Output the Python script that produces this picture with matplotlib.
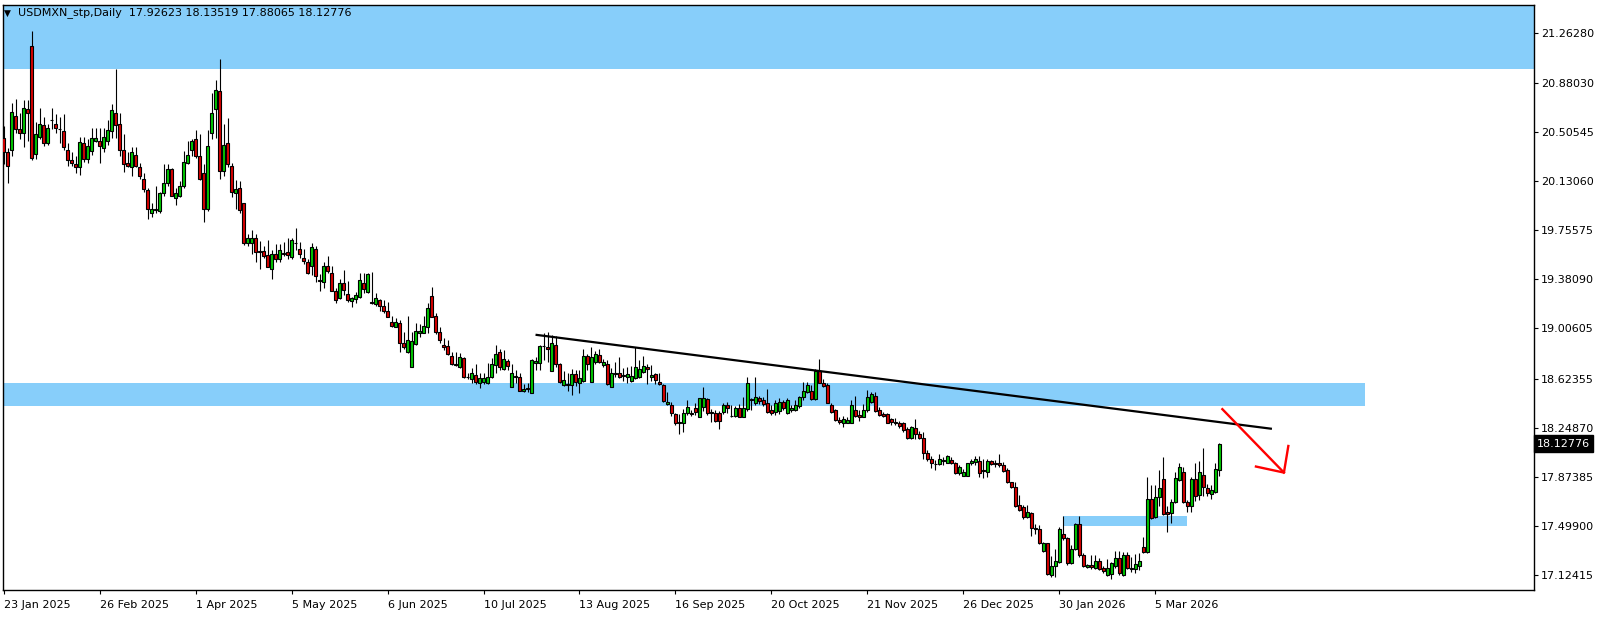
import matplotlib
matplotlib.use("Agg")
import matplotlib.pyplot as plt
import matplotlib.transforms as mtransforms
from matplotlib import font_manager

# ---------------- data (USDMXN daily, bar index 0 = 23 Jan 2025) ----------------
opens = [20.46,20.35,20.37,20.63,20.53,20.50,20.68,21.16,20.34,20.47,
         20.56,20.42,20.60,20.57,20.53,20.51,20.37,20.29,20.26,20.24,
         20.42,20.30,20.36,20.44,20.44,20.38,20.44,20.51,20.65,20.57,
         20.37,20.27,20.24,20.33,20.24,20.15,20.06,19.89,19.92,19.90,
         20.04,20.12,20.22,20.00,20.02,20.09,20.27,20.37,20.45,20.32,
         20.19,19.92,20.50,20.68,20.82,20.21,20.42,20.25,20.04,20.08,
         19.961,19.661,19.661,19.694,19.597,19.597,19.567,19.457,19.574,19.534,
         19.580,19.590,19.549,19.661,19.613,19.541,19.513,19.486,19.613,19.376,
         19.358,19.483,19.427,19.292,19.236,19.351,19.267,19.218,19.231,19.244,
         19.356,19.287,19.208,19.190,19.223,19.178,19.139,19.055,19.020,19.045,
         18.893,18.829,18.709,18.885,18.974,18.974,19.020,19.254,19.101,18.982,
         18.880,18.872,18.796,18.735,18.714,18.778,18.638,18.618,18.651,18.592,
         18.600,18.592,18.633,18.727,18.824,18.694,18.758,18.562,18.638,18.633,
         18.526,18.546,18.516,18.745,18.740,18.872,18.862,18.684,18.877,18.735,
         18.572,18.580,18.574,18.659,18.592,18.608,18.796,18.600,18.747,18.803,
         18.730,18.732,18.562,18.664,18.664,18.646,18.633,18.608,18.625,18.633,
         18.676,18.709,18.638,18.656,18.595,18.572,18.427,18.419,18.351,18.282,
         18.287,18.358,18.363,18.399,18.333,18.404,18.465,18.363,18.363,18.363,
         18.371,18.422,18.338,18.338,18.396,18.333,18.389,18.465,18.440,18.473,
         18.460,18.440,18.384,18.371,18.379,18.447,18.363,18.384,18.384,18.414,
         18.480,18.524,18.531,18.470,18.684,18.592,18.574,18.422,18.384,18.307,
         18.287,18.287,18.287,18.384,18.346,18.333,18.384,18.447,18.491,18.384,
         18.353,18.353,18.312,18.295,18.282,18.282,18.236,18.167,18.244,18.200,
         18.167,18.053,18.007,17.974,17.969,17.997,17.982,18.002,17.982,17.900,
         17.880,17.880,17.977,17.989,17.997,17.926,17.913,17.997,17.977,17.977,
         17.964,17.926,17.831,17.799,17.658,17.646,17.569,17.600,17.483,17.473,
         17.310,17.366,17.122,17.193,17.226,17.437,17.409,17.213,17.320,17.511,
         17.277,17.183,17.200,17.180,17.231,17.180,17.124,17.129,17.195,17.256,
         17.124,17.277,17.180,17.167,17.195,17.340,17.302,17.704,17.564,17.717,
         17.854,17.608,17.595,17.679,17.849,17.913,17.684,17.651,17.854,17.735,
         17.887,17.786,17.743,17.760,17.92623]
highs = [20.55,20.38,20.73,20.76,20.65,20.75,20.75,21.28,20.58,20.69,
         20.62,20.57,20.69,20.64,20.62,20.64,20.42,20.35,20.32,20.47,
         20.47,20.45,20.54,20.54,20.54,20.54,20.60,20.72,20.99,20.65,
         20.49,20.35,20.39,20.39,20.27,20.19,20.08,19.96,20.09,20.05,
         20.26,20.26,20.23,20.08,20.13,20.36,20.44,20.45,20.52,20.49,
         20.26,20.52,20.80,20.90,21.06,20.57,20.61,20.27,20.14,20.13,
         19.966,19.727,19.758,19.727,19.676,19.636,19.681,19.605,19.651,19.648,
         19.669,19.699,19.699,19.773,19.669,19.610,19.534,19.661,19.633,19.422,
         19.511,19.559,19.483,19.317,19.386,19.452,19.368,19.249,19.282,19.427,
         19.427,19.427,19.440,19.279,19.228,19.223,19.211,19.101,19.083,19.071,
         18.982,19.101,18.982,19.045,19.038,19.101,19.198,19.320,19.127,19.020,
         18.931,18.918,18.829,18.829,18.816,18.791,18.663,18.702,18.735,18.663,
         18.663,18.740,18.778,18.880,18.847,18.842,18.776,18.735,18.689,18.664,
         18.582,18.587,18.773,18.786,18.880,18.974,18.982,18.956,18.949,18.740,
         18.684,18.664,18.694,18.689,18.689,18.849,18.811,18.862,18.837,18.847,
         18.776,18.765,18.702,18.753,18.791,18.702,18.714,18.720,18.862,18.765,
         18.796,18.735,18.727,18.664,18.664,18.580,18.524,18.447,18.363,18.350,
         18.389,18.460,18.384,18.440,18.473,18.562,18.473,18.389,18.384,18.379,
         18.440,18.447,18.422,18.414,18.429,18.480,18.633,18.473,18.633,18.491,
         18.480,18.541,18.422,18.460,18.473,18.460,18.473,18.422,18.460,18.491,
         18.600,18.600,18.574,18.694,18.770,18.618,18.592,18.435,18.389,18.328,
         18.338,18.328,18.460,18.491,18.384,18.429,18.536,18.524,18.524,18.409,
         18.371,18.358,18.320,18.320,18.302,18.295,18.251,18.262,18.312,18.226,
         18.218,18.078,18.033,18.002,18.048,18.022,18.040,18.022,17.989,17.964,
         17.931,17.982,18.007,18.033,18.033,18.007,18.007,18.002,18.002,18.048,
         17.989,17.938,17.837,17.837,17.735,17.658,17.658,17.608,17.513,17.506,
         17.379,17.371,17.269,17.320,17.488,17.575,17.417,17.353,17.518,17.575,
         17.290,17.208,17.277,17.277,17.251,17.193,17.244,17.226,17.307,17.310,
         17.302,17.302,17.259,17.284,17.295,17.412,17.875,17.811,17.811,17.926,
         18.027,17.651,17.702,17.913,17.982,17.951,17.697,17.870,17.977,17.997,
         18.091,17.816,17.811,17.982,18.13519]
lows = [20.26,20.12,20.32,20.50,20.45,20.39,20.44,20.29,20.30,20.45,
        20.40,20.41,20.53,20.50,20.42,20.37,20.25,20.25,20.19,20.18,
        20.28,20.27,20.33,20.43,20.27,20.35,20.41,20.46,20.46,20.32,
        20.20,20.24,20.17,20.24,20.15,20.05,19.84,19.86,19.89,19.89,
        20.02,20.09,20.02,19.95,20.01,20.08,20.26,20.32,20.31,20.14,
        19.82,19.90,20.45,20.46,20.15,20.17,20.24,20.01,19.92,19.89,
        19.643,19.636,19.575,19.511,19.457,19.541,19.478,19.381,19.511,19.511,
        19.562,19.539,19.536,19.605,19.546,19.496,19.422,19.412,19.361,19.295,
        19.317,19.427,19.295,19.198,19.229,19.262,19.211,19.172,19.197,19.236,
        19.279,19.279,19.193,19.180,19.142,19.122,19.091,19.020,19.015,18.824,
        18.847,18.821,18.709,18.880,18.938,18.969,18.974,19.091,18.964,18.893,
        18.842,18.806,18.727,18.720,18.702,18.628,18.618,18.592,18.582,18.549,
        18.582,18.582,18.625,18.664,18.689,18.689,18.689,18.557,18.587,18.526,
        18.523,18.518,18.511,18.689,18.689,18.765,18.753,18.681,18.714,18.592,
        18.567,18.531,18.501,18.567,18.516,18.600,18.689,18.600,18.732,18.740,
        18.709,18.572,18.557,18.633,18.625,18.608,18.592,18.600,18.623,18.625,
        18.664,18.582,18.608,18.582,18.574,18.447,18.422,18.338,18.269,18.200,
        18.218,18.346,18.338,18.346,18.328,18.379,18.346,18.295,18.295,18.236,
        18.353,18.358,18.328,18.328,18.328,18.328,18.379,18.384,18.422,18.429,
        18.414,18.363,18.346,18.346,18.353,18.384,18.353,18.371,18.379,18.396,
        18.460,18.511,18.460,18.460,18.587,18.557,18.435,18.358,18.302,18.277,
        18.251,18.282,18.282,18.328,18.302,18.328,18.371,18.435,18.371,18.338,
        18.328,18.282,18.269,18.269,18.244,18.218,18.160,18.160,18.160,18.160,
        18.007,17.997,17.938,17.926,17.964,17.964,17.977,17.971,17.895,17.887,
        17.880,17.880,17.964,17.964,17.870,17.867,17.870,17.964,17.951,17.951,
        17.913,17.824,17.786,17.646,17.615,17.549,17.557,17.422,17.437,17.361,
        17.302,17.124,17.111,17.111,17.218,17.391,17.200,17.206,17.315,17.264,
        17.188,17.175,17.167,17.167,17.162,17.142,17.119,17.091,17.175,17.124,
        17.116,17.167,17.150,17.142,17.162,17.295,17.295,17.549,17.557,17.651,
        17.582,17.455,17.524,17.671,17.844,17.676,17.608,17.608,17.692,17.697,
        17.727,17.727,17.702,17.753,17.88065]
closes = [20.35,20.25,20.66,20.53,20.50,20.69,20.65,20.31,20.49,20.57,
          20.42,20.54,20.595,20.54,20.525,20.39,20.29,20.27,20.24,20.43,
          20.30,20.40,20.46,20.46,20.40,20.47,20.52,20.67,20.56,20.37,
          20.26,20.25,20.35,20.25,20.17,20.07,19.92,19.92,19.91,20.04,
          20.12,20.22,20.02,20.04,20.09,20.28,20.33,20.44,20.32,20.15,
          19.92,20.40,20.65,20.83,20.21,20.41,20.26,20.05,20.07,19.91,
          19.661,19.694,19.694,19.587,19.587,19.562,19.478,19.574,19.539,19.605,
          19.576,19.569,19.681,19.656,19.572,19.524,19.432,19.625,19.406,19.366,
          19.480,19.447,19.295,19.224,19.351,19.300,19.223,19.236,19.262,19.376,
          19.310,19.422,19.198,19.236,19.180,19.142,19.096,19.027,19.055,18.898,
          18.862,18.918,18.910,18.987,18.989,19.025,19.160,19.096,18.982,18.918,
          18.867,18.811,18.735,18.730,18.786,18.633,18.633,18.663,18.600,18.628,
          18.628,18.633,18.735,18.809,18.709,18.773,18.720,18.664,18.636,18.531,
          18.541,18.544,18.765,18.758,18.872,18.870,18.847,18.893,18.735,18.600,
          18.613,18.578,18.659,18.600,18.625,18.793,18.732,18.791,18.809,18.753,
          18.750,18.580,18.664,18.662,18.638,18.644,18.659,18.643,18.714,18.694,
          18.720,18.694,18.651,18.613,18.582,18.455,18.445,18.363,18.282,18.295,
          18.363,18.404,18.353,18.371,18.473,18.473,18.358,18.361,18.302,18.302,
          18.422,18.401,18.336,18.396,18.333,18.396,18.592,18.463,18.480,18.452,
          18.429,18.371,18.363,18.435,18.447,18.396,18.460,18.396,18.422,18.480,
          18.531,18.574,18.468,18.684,18.592,18.569,18.440,18.371,18.307,18.295,
          18.315,18.307,18.422,18.338,18.333,18.384,18.480,18.506,18.379,18.346,
          18.338,18.287,18.295,18.282,18.262,18.231,18.167,18.256,18.198,18.167,
          18.053,18.007,17.982,17.969,18.007,18.000,18.033,17.982,17.900,17.951,
          17.913,17.977,17.997,18.007,17.900,17.918,17.997,17.971,17.974,17.964,
          17.921,17.831,17.793,17.653,17.620,17.569,17.608,17.480,17.478,17.371,
          17.366,17.132,17.193,17.231,17.473,17.404,17.213,17.320,17.511,17.277,
          17.195,17.200,17.183,17.231,17.167,17.155,17.180,17.213,17.256,17.137,
          17.277,17.175,17.170,17.206,17.231,17.302,17.704,17.562,17.717,17.786,
          17.590,17.590,17.684,17.862,17.946,17.684,17.651,17.854,17.727,17.913,
          17.798,17.748,17.773,17.931,18.12776]

date_ticks = [0, 24, 48, 72, 96, 120, 144, 168, 192, 216, 240, 264, 288]
date_labels = ["23 Jan 2025", "26 Feb 2025", "1 Apr 2025", "5 May 2025", "6 Jun 2025",
               "10 Jul 2025", "13 Aug 2025", "16 Sep 2025", "20 Oct 2025", "21 Nov 2025",
               "26 Dec 2025", "30 Jan 2026", "5 Mar 2026"]
price_ticks = [21.26280, 20.88030, 20.50545, 20.13060, 19.75575, 19.38090, 19.00605,
               18.62355, 18.24870, 17.87385, 17.49900, 17.12415]

# zones / drawings
top_zone = (20.985, 21.60)
mid_zone = (18.411, 18.593, 340.6)          # low, high, right end (bar index)
small_zone = (17.498, 17.575, 265, 296)     # low, high, start bar, end bar
trend_x = [133, 317.2]
trend_y = [18.958, 18.240]
arrow_x = [304.8, 320.2]
arrow_y = [18.390, 17.906]
head_x = [313.2, 320.2, 321.3]
head_y = [17.952, 17.906, 18.109]
last_price = 18.12776

# ---------------- figure ----------------
avail = {f.name for f in font_manager.fontManager.ttflist}
xfont = "Liberation Sans Narrow" if "Liberation Sans Narrow" in avail else "DejaVu Sans"
xsize = 9.5 if xfont == "Liberation Sans Narrow" else 8

W, H = 1604, 617
fig = plt.figure(figsize=(W / 100, H / 100), dpi=100)
fig.patch.set_facecolor("white")
ax = fig.add_axes([3 / W, 1 - 590 / H, (1534 - 3) / W, (590 - 5) / H])
ax.set_facecolor("white")
ax.set_xlim(-0.2, 382.75)
ax.set_ylim(17.0096, 21.4752)

light_blue = "#87CEFA"
ax.axhspan(top_zone[0], top_zone[1], color=light_blue, lw=0, zorder=0)
ax.fill_between([-5, mid_zone[2]], mid_zone[0], mid_zone[1], color=light_blue, lw=0, zorder=0)
ax.fill_between([small_zone[2], small_zone[3]], small_zone[0], small_zone[1],
                color=light_blue, lw=0, zorder=0)

n = len(closes)
xs = list(range(n))
ax.vlines(xs, lows, highs, color="black", linewidth=0.8, zorder=2)
bottoms = [min(o, c) for o, c in zip(opens, closes)]
heights = [max(abs(c - o), 0.004) for o, c in zip(opens, closes)]
colors = ["#00C800" if c >= o else "#D80000" for o, c in zip(opens, closes)]
ax.bar(xs, heights, bottom=bottoms, width=0.72, color=colors,
       edgecolor="black", linewidth=0.8, zorder=3)

ax.plot(trend_x, trend_y, color="black", linewidth=1.6, zorder=4, solid_capstyle="butt")
ax.plot(arrow_x, arrow_y, color="#FF0000", linewidth=1.7, zorder=4)
ax.plot(head_x, head_y, color="#FF0000", linewidth=1.7, zorder=4)

# axes styling
for s in ax.spines.values():
    s.set_color("black")
    s.set_linewidth(1.0)
ax.yaxis.tick_right()
ax.set_yticks(price_ticks)
ax.set_yticklabels([f"{v:.5f}" for v in price_ticks])
ax.tick_params(axis="y", direction="out", length=3, width=0.8, pad=2,
               labelsize=8, colors="black")
ax.set_xticks(date_ticks)
ax.set_xticklabels(date_labels, ha="left", family=xfont, fontsize=xsize)
ax.tick_params(axis="x", direction="out", length=3, width=0.8, pad=4, colors="black")

# current price label
trans = mtransforms.blended_transform_factory(ax.transAxes, ax.transData)
ax.text(1.002, last_price, f"{last_price:.5f}", transform=trans, ha="left", va="center",
        color="white", fontsize=8,
        bbox=dict(boxstyle="square,pad=0.28", fc="black", ec="black"), zorder=6,
        clip_on=False)

# header
fig.text(4 / W, 1 - 13 / H, "\u25BC", fontsize=6.5, va="center", ha="left", color="black")
fig.text(18 / W, 1 - 13 / H, "USDMXN_stp,Daily  17.92623 18.13519 17.88065 18.12776",
         fontsize=8, va="center", ha="left", color="black")

fig.savefig("out.png", dpi=100)
